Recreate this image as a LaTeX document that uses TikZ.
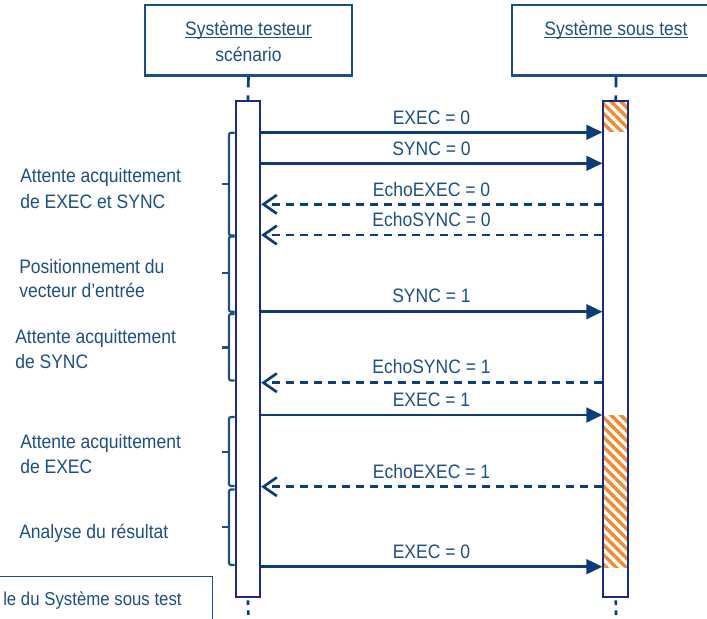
\documentclass[tikz,border=0pt]{standalone}
\usepackage{fontspec}
\setmainfont{Liberation Sans}[FakeStretch=0.9]
\usetikzlibrary{arrows.meta,patterns.meta}
\definecolor{txt}{HTML}{1C4F82}
\definecolor{ln}{HTML}{0D3C78}
\definecolor{barc}{HTML}{1B2A80}
\definecolor{hatch}{HTML}{F08A30}
\tikzset{
  lbl/.style={inner sep=0pt, text=txt, font=\fontsize{14.6}{19}\selectfont},
  boxc/.style={draw=txt, line width=1.8pt, inner sep=0pt},
  barbox/.style={draw=barc, line width=1.4pt, inner sep=0pt, minimum width=18.5pt, minimum height=372pt},
  msg/.style={draw=ln, line width=2pt, -{Triangle[length=12pt,width=11pt]}},
  reply/.style={draw=ln, line width=2pt, dash pattern=on 6pt off 4.5pt, -{Straight Barb[length=10pt,width=14pt,line width=2pt]}},
  life/.style={draw=ln, line width=2pt, dash pattern=on 8pt off 6pt},
  lifelow/.style={draw=ln, line width=2pt, dash pattern=on 3.5pt off 4pt},
  brk/.style={draw=txt, line width=1.6pt, rounded corners=1.5pt},
  uline/.style={draw=txt, line width=1.1pt},
  hatched/.style={pattern={Lines[angle=-45,distance=5.2pt,line width=2.6pt]}, pattern color=hatch}
}
\begin{document}
\begin{tikzpicture}[x=0.75pt,y=-0.75pt]
\useasboundingbox (0,0) rectangle (707,618);
% header boxes
\node[boxc, minimum width=155.25pt, minimum height=52.9pt] (lbox) at (248.5,40.3) {};
\node[boxc, minimum width=156pt, minimum height=52.9pt] (rbox) at (616,40.3) {};
\node[lbl, anchor=base] (lt1) at (248.5,35) {Système testeur};
\node[lbl, anchor=base] (lt2) at (248.5,61) {scénario};
\node[lbl, anchor=base] (rt1) at (616,35) {Système sous test};
\draw[uline] ([yshift=-2pt]lt1.base west) -- ([yshift=-2pt]lt1.base east);
\draw[uline] ([yshift=-2pt]rt1.base west) -- ([yshift=-2pt]rt1.base east);
% hatched regions (drawn under the bars)
\fill[hatched] (603.8,101.5) rectangle (627.8,131.7);
\fill[hatched] (603.8,415) rectangle (627.8,567.7);
% activation bars
\node[barbox] (lbar) at (247.9,348.7) {};
\node[barbox, minimum width=18.75pt] (rbar) at (615.8,348.8) {};
% lifelines
\coordinate (lend) at (248.5,618);
\coordinate (rend) at (616,618);
\draw[life] (lbox.south) -- (lbar.north);
\draw[life] (rbox.south) -- (rbar.north);
\draw[lifelow] ([yshift=-2pt]lbar.south) -- (lend);
\draw[lifelow] ([yshift=-2pt]rbar.south) -- (rend);
% messages
\draw[msg] (lbar.east |- 0,132.3) -- (rbar.west |- 0,132.3);
\node[lbl, anchor=base] (m1) at (431.5,124) {EXEC = 0};
\draw[msg] (lbar.east |- 0,163.3) -- (rbar.west |- 0,163.3);
\node[lbl, anchor=base] (m2) at (431.5,155.5) {SYNC = 0};
\draw[reply] (rbar.west |- 0,204.3) -- (lbar.east |- 0,204.3);
\node[lbl, anchor=base] (m3) at (431.5,196) {EchoEXEC = 0};
\draw[reply] (rbar.west |- 0,235) -- (lbar.east |- 0,235);
\node[lbl, anchor=base] (m4) at (431.5,226.7) {EchoSYNC = 0};
\draw[msg] (lbar.east |- 0,311.7) -- (rbar.west |- 0,311.7);
\node[lbl, anchor=base] (m5) at (431.5,302.3) {SYNC = 1};
\draw[reply] (rbar.west |- 0,382.7) -- (lbar.east |- 0,382.7);
\node[lbl, anchor=base] (m6) at (431.5,373.3) {EchoSYNC = 1};
\draw[msg] (lbar.east |- 0,415) -- (rbar.west |- 0,415);
\node[lbl, anchor=base] (m7) at (431.5,406.7) {EXEC = 1};
\draw[reply] (rbar.west |- 0,486.7) -- (lbar.east |- 0,486.7);
\node[lbl, anchor=base] (m8) at (431.5,478.3) {EchoEXEC = 1};
\draw[msg] (lbar.east |- 0,566.7) -- (rbar.west |- 0,566.7);
\node[lbl, anchor=base] (m9) at (431.5,558.3) {EXEC = 0};
% brackets
\foreach \t/\b/\m in {132.7/235.5/184.3, 236.5/311.7/273, 314/380.5/347.5, 417/486/452, 489.5/565/526.7}{
  \draw[brk] (lbar.west |- 0,\t) -- (229,\t) -- (229,\b) -- (lbar.west |- 0,\b);
  \draw[brk] (229,\m) -- (222,\m);
}
% left labels
\node[lbl, anchor=base west] (a1) at (20,182.7) {Attente acquittement};
\node[lbl, anchor=base west] (a2) at (20,208.3) {de EXEC et SYNC};
\node[lbl, anchor=base west] (b1) at (19,273.3) {Positionnement du};
\node[lbl, anchor=base west] (b2) at (19,297.3) {vecteur d’entrée};
\node[lbl, anchor=base west] (c1) at (15,343.3) {Attente acquittement};
\node[lbl, anchor=base west] (c2) at (15,368.3) {de SYNC};
\node[lbl, anchor=base west] (d1) at (20,448.3) {Attente acquittement};
\node[lbl, anchor=base west] (d2) at (20,473.3) {de EXEC};
\node[lbl, anchor=base west] (e1) at (19,538.3) {Analyse du résultat};
% bottom-left box
\node[draw=txt, line width=1pt, inner sep=0pt, minimum width=165pt, minimum height=45pt, anchor=north east] (bbox) at (213.3,576) {};
\node[lbl, anchor=base west, font=\fontsize{14}{18}\selectfont] (bt) at (3,605) {le du Système sous test};
\end{tikzpicture}
\end{document}
